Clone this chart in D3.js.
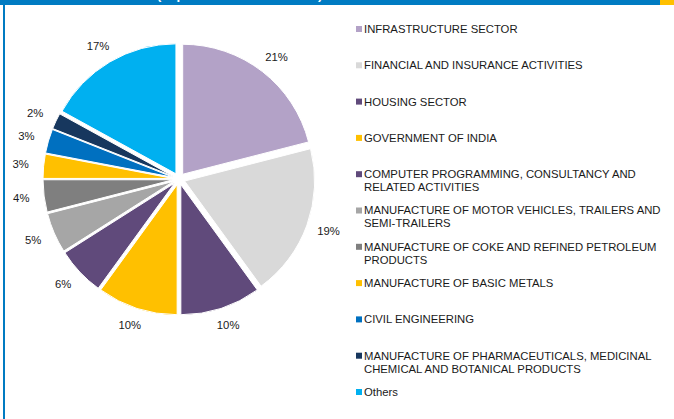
<!DOCTYPE html>
<html lang="en">
<head>
  <meta charset="UTF-8">
  <title>Sector exposure pie</title>
  <style>
    body { margin: 0; background: #fff; }
    svg { display: block; font-family: Arial, "Liberation Sans", sans-serif; }
  </style>
</head>
<body>
  <div id="chart"></div>
  <script src="https://d3js.org/d3.v7.min.js"></script>
  <script>
    // data
    const categories = [
      'INFRASTRUCTURE SECTOR',
      'FINANCIAL AND INSURANCE ACTIVITIES',
      'HOUSING SECTOR',
      'GOVERNMENT OF INDIA',
      'COMPUTER PROGRAMMING, CONSULTANCY AND RELATED ACTIVITIES',
      'MANUFACTURE OF MOTOR VEHICLES, TRAILERS AND SEMI-TRAILERS',
      'MANUFACTURE OF COKE AND REFINED PETROLEUM PRODUCTS',
      'MANUFACTURE OF BASIC METALS',
      'CIVIL ENGINEERING',
      'MANUFACTURE OF PHARMACEUTICALS, MEDICINAL CHEMICAL AND BOTANICAL PRODUCTS',
      'Others'
    ]
    const shares = [21, 19, 10, 10, 6, 5, 4, 3, 3, 2, 17]
    const colors = ['#b3a2c7', '#d9d9d9', '#604a7b', '#ffc000', '#604a7b', '#a6a6a6',
      '#7f7f7f', '#ffc000', '#0070c0', '#17375e', '#00b0f0']

    const width = 674
    const height = 419
    const cx = 179
    const cy = 179
    const radius = 130
    const explode = 6
    const fontSize = 11.3

    const svg = d3.select('#chart').append('svg')
      .attr('width', width)
      .attr('height', height)

    // frame: header strip, orange corner, left rule
    svg.append('rect').attr('x', 0).attr('y', 0).attr('width', 660).attr('height', 5).attr('fill', '#007bc2')
    svg.append('rect').attr('x', 660).attr('y', 0).attr('width', 14).attr('height', 5).attr('fill', '#ffc000')
    svg.append('rect').attr('x', 3).attr('y', 0).attr('width', 2).attr('height', height).attr('fill', '#007bc2')
    // title is cut off at the top edge in the reference, only descenders peek through
    svg.append('text')
      .attr('x', 157).attr('y', -1)
      .attr('font-size', 13).attr('font-weight', 'bold')
      .attr('fill', '#fff')
      .text('(In per cent of total assets)')

    const data = categories.map((c, i) => ({ name: c, value: shares[i], color: colors[i] }))

    const pie = d3.pie().sort(null).value(d => d.value)
    const arcs = pie(data)
    const arc = d3.arc().innerRadius(0).outerRadius(radius)
    const labelArc = d3.arc().innerRadius(148).outerRadius(148)

    const g = svg.append('g').attr('transform', `translate(${cx}, ${cy})`)

    g.selectAll('path')
      .data(arcs)
      .join('path')
      .attr('d', arc)
      .attr('fill', d => d.data.color)
      .attr('stroke', '#fff')
      .attr('stroke-width', 1)
      .attr('transform', d => {
        const a = (d.startAngle + d.endAngle) / 2
        return `translate(${explode * Math.sin(a)}, ${-explode * Math.cos(a)})`
      })

    // labels sit just outside the rim, pushed out by half their box
    g.selectAll('text.pct')
      .data(arcs)
      .join('text')
      .attr('class', 'pct')
      .attr('transform', d => {
        const [x, y] = labelArc.centroid(d)
        const a = (d.startAngle + d.endAngle) / 2
        return `translate(${x + 11 * Math.sin(a)}, ${y - 6 * Math.cos(a)})`
      })
      .attr('text-anchor', 'middle')
      .attr('dy', '0.35em')
      .attr('font-size', fontSize)
      .attr('fill', '#1a1a1a')
      .text(d => d.data.value + '%')

    // legend, rows evenly spaced
    const rowY = d3.scaleLinear().domain([0, categories.length - 1]).range([29, 392])
    const legend = svg.append('g')
    const maxW = 306

    const items = legend.selectAll('g')
      .data(data)
      .join('g')
      .attr('transform', (d, i) => `translate(356, ${rowY(i)})`)

    items.append('rect')
      .attr('x', 0).attr('y', -3)
      .attr('width', 6).attr('height', 6)
      .attr('fill', d => d.color)

    items.each(function (d) {
      const t = d3.select(this).append('text')
        .attr('x', 8).attr('y', 0)
        .attr('font-size', fontSize).attr('fill', '#1a1a1a')
      const words = d.name.split(' ')
      let line = []
      let tspan = t.append('tspan').attr('x', 8).attr('dy', '0.35em')
      words.forEach(w => {
        line.push(w)
        tspan.text(line.join(' '))
        if (tspan.node().getComputedTextLength() > maxW && line.length > 1) {
          line.pop()
          tspan.text(line.join(' '))
          line = [w]
          tspan = t.append('tspan').attr('x', 8).attr('dy', '13').text(w)
        }
      })
    })
  </script>
</body>
</html>
